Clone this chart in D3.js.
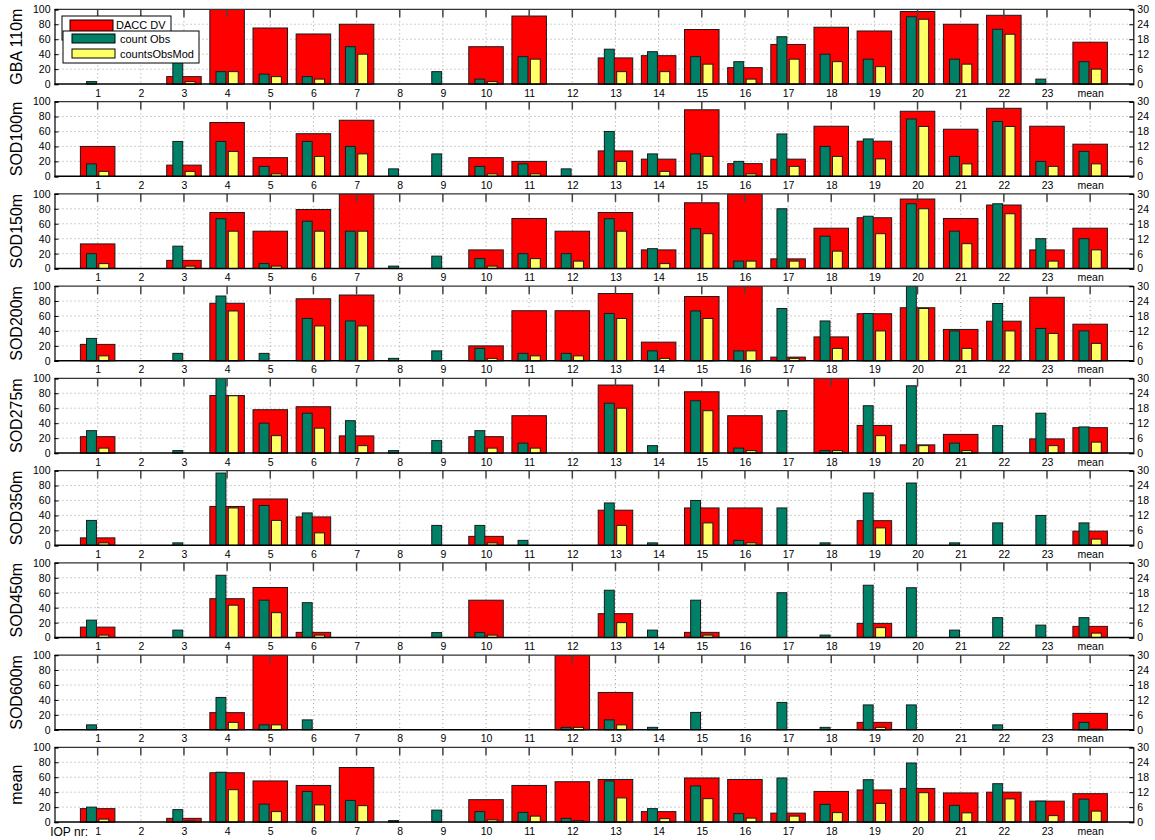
<!DOCTYPE html>
<html><head><meta charset="utf-8">
<script src="https://cdn.jsdelivr.net/npm/d3@7"></script>
<style>body{margin:0;background:#fff}svg{display:block}text{font-family:"Liberation Sans",Arial,Helvetica,sans-serif}</style>
</head><body><svg id="c" width="1155" height="840"></svg>
<script>
const categories = ["1","2","3","4","5","6","7","8","9","10","11","12","13","14","15","16","17","18","19","20","21","22","23","mean"];
const panels = ["GBA 110m","SOD100m","SOD150m","SOD200m","SOD275m","SOD350m","SOD450m","SOD600m","mean"];
const seriesNames = ["DACC DV","count Obs","countsObsMod"];
const leftTicks = [0,20,40,60,80,100];
const rightTicks = [0,6,12,18,24,30];

// DACC DV (left axis, 0-100), one row per panel
const daccDV = [
 [0,0,10,100,75,67,80,0,0,50,91,0,35,38,73,22,53,76,71,97,80,92,0,56],
 [40,0,15,72,25,57,75,0,0,25,20,0,34,23,89,17,23,67,47,87,63,91,67,43],
 [33,0,11,75,50,79,100,0,0,25,67,50,75,25,88,100,13,54,68,93,67,85,25,54],
 [22,0,0,77,0,83,88,0,0,20,67,67,90,25,86,100,5,32,63,71,42,53,85,49],
 [22,0,0,77,58,62,23,0,0,22,50,0,91,0,82,50,0,100,37,11,25,0,19,34],
 [10,0,0,52,62,38,0,0,0,12,0,0,47,0,50,50,0,0,33,0,0,0,0,19],
 [14,0,0,52,67,7,0,0,0,50,0,0,32,0,7,0,0,0,19,0,0,0,0,15],
 [0,0,0,23,100,0,0,0,0,0,0,100,50,0,0,0,0,0,10,0,0,0,0,22],
 [18,0,5,66,55,49,73,0,0,30,49,54,57,14,59,57,12,41,43,45,39,40,28,38]
];
// count Obs (right axis, 0-30)
const countObs = [
 [1,0,10,5,4,3,15,0,5,2,11,0,14,13,11,9,19,12,10,27,10,22,2,9],
 [5,0,14,14,4,14,12,3,9,4,5,3,18,9,9,6,17,12,15,23,8,22,6,10],
 [6,0,9,20,2,19,15,1,5,4,6,6,20,8,16,3,24,13,21,26,15,26,12,12],
 [9,0,3,26,3,17,16,1,4,5,3,3,19,4,20,4,21,16,19,30,12,23,13,12],
 [9,0,1,30,12,16,13,1,5,9,4,0,20,3,21,2,17,1,19,27,4,11,16,10.5],
 [10,0,1,29,16,13,0,0,8,8,2,0,17,1,18,2,15,1,21,25,1,9,12,9],
 [7,0,3,25,15,14,0,0,2,2,0,0,19,3,15,0,18,1,21,20,3,8,5,8],
 [2,0,0,13,2,4,0,0,0,0,0,1,4,1,7,0,11,1,10,10,0,2,0,3],
 [6,0,5,20,7.2,12.3,8.7,0.6,4.8,4.2,3.9,1.5,16.5,5.4,14.5,3.4,17.7,7.1,17,23.7,6.7,15.4,8.4,9.2]
];
// countsObsMod (right axis, 0-30)
const countsObsMod = [
 [0,0,1,5,3,2,12,0,0,1,10,0,5,5,8,2,10,9,7,26,8,20,0,6],
 [2,0,2,10,1,8,9,0,0,1,1,0,6,2,8,1,4,8,7,20,5,20,4,5],
 [2,0,1,15,1,15,15,0,0,1,4,3,15,2,14,3,3,7,14,24,10,22,3,7.5],
 [2,0,0,20,0,14,14,0,0,1,2,2,17,1,17,4,1,5,12,21,5,12,11,7],
 [2,0,0,23,7,10,3,0,0,2,2,0,18,0,17,1,0,1,7,3,1,0,3,4.4],
 [1,0,0,15,10,5,0,0,0,1,0,0,8,0,9,1,0,0,7,0,0,0,0,2.5],
 [1,0,0,13,10,1,0,0,0,1,0,0,6,0,1,0,0,0,4,0,0,0,0,1.8],
 [0,0,0,3,2,0,0,0,0,0,0,1,2,0,0,0,0,0,1,0,0,0,0,0.3],
 [1.2,0,0.5,13,4.2,6.9,6.6,0,0,0.9,2.4,0.6,9.7,1.4,9.4,1.6,2.4,3.8,7.5,11.8,3.7,9.3,2.6,4.4]
];

const colors = {dacc:"#ff0000", obs:"#008066", mod:"#ffff66"};
const svg = d3.select("#c");
const x = d3.scaleLinear().domain([0,25]).range([54.5,1133.3]);
const panelTop = i => 9.3 + i*92.25;
const panelH = 74.8;
const idx = d3.range(categories.length);

panels.forEach((name,p)=>{
  const top = panelTop(p), bot = top+panelH;
  const yL = d3.scaleLinear().domain([0,100]).range([bot,top]);
  const yR = d3.scaleLinear().domain([0,30]).range([bot,top]);
  const g = svg.append("g");
  const cid = "clip"+p;
  svg.append("clipPath").attr("id",cid).append("rect")
    .attr("x",x(0)).attr("y",top).attr("width",x(25)-x(0)).attr("height",panelH+1);
  // grid
  const grid = g.append("g").attr("stroke","#8a8a8a").attr("stroke-width",0.8).attr("stroke-dasharray","1,3");
  grid.selectAll("line.h").data([20,40,60,80]).join("line")
    .attr("x1",x(0)).attr("x2",x(25)).attr("y1",d=>yL(d)).attr("y2",d=>yL(d));
  grid.selectAll("line.v").data(idx).join("line")
    .attr("x1",d=>x(d+1)).attr("x2",d=>x(d+1)).attr("y1",top).attr("y2",bot);
  const bars = g.append("g").attr("clip-path",`url(#${cid})`);
  const unit = x(1)-x(0);
  // red bars
  bars.selectAll("rect.r").data(daccDV[p]).join("rect")
    .attr("x",(d,i)=>x(i+1)-0.4*unit).attr("width",0.8*unit)
    .attr("y",d=>yL(d)).attr("height",d=>yL(0)-yL(d))
    .attr("fill",colors.dacc).attr("stroke","#1a1a1a").attr("stroke-width",1);
  bars.selectAll("rect.g").data(countObs[p]).join("rect")
    .attr("x",(d,i)=>x(i+1)-0.143*unit-0.1145*unit).attr("width",0.229*unit)
    .attr("y",d=>yR(d)).attr("height",d=>yR(0)-yR(d))
    .attr("fill",colors.obs).attr("stroke","#1a1a1a").attr("stroke-width",1);
  bars.selectAll("rect.y").data(countsObsMod[p]).join("rect")
    .attr("x",(d,i)=>x(i+1)+0.143*unit-0.1145*unit).attr("width",0.229*unit)
    .attr("y",d=>yR(d)).attr("height",d=>yR(0)-yR(d))
    .attr("fill",colors.mod).attr("stroke","#1a1a1a").attr("stroke-width",1);
  // top ticks
  g.append("g").selectAll("line").data(idx).join("line")
    .attr("x1",d=>x(d+1)).attr("x2",d=>x(d+1)).attr("y1",top).attr("y2",top+8)
    .attr("stroke","#444").attr("stroke-width",1.5);
  // frame
  g.append("line").attr("x1",x(0)).attr("x2",x(25)).attr("y1",top).attr("y2",top).attr("stroke","#333").attr("stroke-width",1.2);
  g.append("line").attr("x1",x(0)).attr("x2",x(25)).attr("y1",bot).attr("y2",bot).attr("stroke","#000").attr("stroke-width",1.5);
  // left axis
  const la = g.append("g").attr("transform",`translate(${x(0)},0)`)
    .call(d3.axisLeft(yL).tickValues(leftTicks).tickSize(-4).tickPadding(4));
  // right axis
  const ra = g.append("g").attr("transform",`translate(${x(25)},0)`)
    .call(d3.axisRight(yR).tickValues(rightTicks).tickSize(-4).tickPadding(4));
  [la,ra].forEach(a=>{
    a.select(".domain").attr("stroke","#000").attr("stroke-width",1.2);
    a.selectAll(".tick line").attr("stroke","#000");
    a.selectAll("text").attr("font-size",10.5).attr("fill","#000").attr("font-family","Liberation Sans, Arial, sans-serif");
  });
  // x labels
  const xa = g.append("g").attr("transform",`translate(0,${bot})`)
    .call(d3.axisBottom(x).tickValues(idx.map(i=>i+1)).tickFormat(d=>categories[d-1]).tickSize(0).tickPadding(5));
  xa.select(".domain").remove();
  xa.selectAll("text").attr("font-size",10.5).attr("fill","#000").attr("font-family","Liberation Sans, Arial, sans-serif");
  // y label
  g.append("text").attr("transform",`translate(22,${top+panelH/2}) rotate(-90)`)
    .attr("text-anchor","middle").attr("font-size",16).text(name);
  if(p===panels.length-1){
    g.append("text").attr("x",88).attr("y",bot+14).attr("text-anchor","end")
      .attr("font-size",12).text("IOP nr:");
  }
});

// legend (two overlapping boxes, as in the reference)
const lg = svg.append("g");
lg.append("rect").attr("x",62).attr("y",16).attr("width",109).attr("height",24).attr("fill","#fff").attr("stroke","#000");
lg.append("rect").attr("x",70).attr("y",20).attr("width",43).attr("height",12).attr("fill",colors.dacc).attr("stroke","#000");
lg.append("text").attr("x",116).attr("y",29).attr("font-size",11).text(seriesNames[0]);
lg.append("rect").attr("x",63).attr("y",31).attr("width",136).attr("height",32).attr("fill","#fff").attr("stroke","#000");
lg.append("rect").attr("x",72).attr("y",34).attr("width",43).attr("height",9).attr("fill",colors.obs).attr("stroke","#000");
lg.append("text").attr("x",120).attr("y",42.5).attr("font-size",11).text(seriesNames[1]);
lg.append("rect").attr("x",72).attr("y",49).attr("width",43).attr("height",9).attr("fill",colors.mod).attr("stroke","#000");
lg.append("text").attr("x",120).attr("y",57.5).attr("font-size",11).text(seriesNames[2]);
</script></body></html>
